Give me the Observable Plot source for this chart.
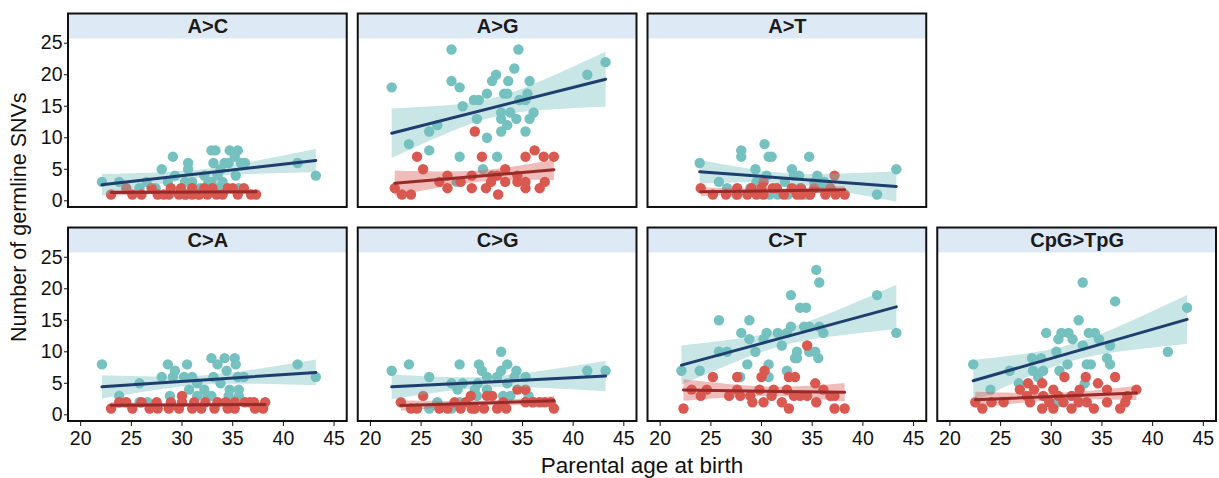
<!DOCTYPE html>
<html>
<head>
<meta charset="utf-8">
<script src="https://cdn.jsdelivr.net/npm/d3@7"></script>
<script src="https://cdn.jsdelivr.net/npm/@observablehq/plot@0.6"></script>
<style>
  body { margin: 0; background: #fff; }
  #chart { font-family: "Liberation Sans", Arial, sans-serif; }
</style>
</head>
<body>
<div id="chart"></div>
<script>
// Mutation classes, laid out on a 4 x 2 grid (top-right cell left empty)
const panels   = ["A>C", "A>G", "A>T", "C>A", "C>G", "C>T", "CpG>TpG"];
const panelCol = [0, 1, 2, 0, 1, 2, 3];
const panelRow = [0, 0, 0, 1, 1, 1, 1];

const xTicks = [20, 25, 30, 35, 40, 45];
const yTicks = [0, 5, 10, 15, 20, 25];

// [parental age, number of germline SNVs] — fathers
const paternalAC = [[22.1,3],[23.8,3],[25.8,2],[26.5,3],[27.4,2],[28,5],[29.1,7],[28.6,3],[29.3,4],[30.6,6],[30.6,5],[30.3,3],[31,3],[30.4,1],[31.6,1],[31.8,2],[32.2,4],[32.9,8],[33.3,8],[33.1,6],[32.6,3],[32.9,3],[33.5,4],[33.5,2],[33.8,5],[34,3],[34.2,6],[34.6,6],[34.7,8],[35.5,8],[35.2,7],[35.8,6],[36.2,6],[35.3,4],[35.6,2],[41.4,6],[43.2,4]];
const paternalAG = [[22.1,18],[23.8,9],[25.8,11],[25.8,8],[26.6,12],[28,24],[28,19],[28.5,3],[28.8,18],[28.8,7],[29.1,15],[30.5,13],[30.2,16],[30.7,16],[31.5,17],[31.5,10],[31.1,5],[32,19],[32.4,20],[32.5,7],[32.9,14],[32.9,13],[32.9,11],[33.2,17],[33.5,17],[33.6,19],[33.5,12],[33.8,14],[34.2,21],[34.6,24],[34.4,13],[34.7,16],[35.3,16],[35.5,17],[35.7,19],[35.7,13],[36.1,14],[35.3,11],[41.4,20],[43.2,22]];
const paternalAT = [[23.9,6],[25.8,3],[26.6,2],[27.5,1],[28,8],[28,7],[28.9,2],[29.4,5],[29.5,3],[30.3,9],[30.5,4],[30.7,7],[30.8,1],[31,7],[31.5,2],[31.6,1],[32.3,3],[32.6,1],[33,5],[33,2],[33.2,4],[33.7,4],[33.8,2],[34.3,1],[34.7,7],[34.7,1],[35.2,3],[35.5,4],[35.7,2],[36,3],[36.2,3],[41.4,1],[43.3,5]];
const paternalCA = [[22.1,8],[23.8,3],[25.8,5],[25.8,2],[26.6,2],[28,6],[28.6,8],[28.8,3],[29.1,6],[29.3,7],[30.2,6],[30.5,8],[30.7,4],[31,6],[31.5,5],[31.5,3],[32.2,4],[32.5,3],[32.9,9],[32.9,3],[33.1,6],[33.5,8],[33.8,5],[34.2,9],[34.4,7],[34.6,3],[34.7,4],[35.2,9],[35.3,8],[35.5,6],[35.6,4],[35.6,3],[36.1,6],[41.4,8],[43.2,6]];
const paternalCG = [[22.1,7],[23.8,8],[25.8,6],[25.8,1],[26.6,2],[28,5],[28,1],[28.6,4],[28.8,8],[28.8,2],[29.1,5],[30.3,4],[30.5,3],[30.6,5],[30.7,8],[31,7],[31.5,6],[31.5,4],[32.5,6],[32.9,10],[32.9,7],[33.1,3],[33.5,8],[33.5,5],[33.8,3],[34.2,6],[34.4,7],[35.3,6],[35.6,3],[36.1,2],[41.4,7],[43.2,7]];
const paternalCT = [[22.1,7],[23.9,7],[25.8,15],[25.8,10],[26.6,10],[27.9,6],[28,13],[28.6,8],[28.8,15],[28.8,12],[29.4,10],[30.2,12],[30.5,13],[30.7,8],[30.7,6],[31.6,13],[32,11],[32.5,13],[32.5,7],[32.9,19],[32.9,14],[33.3,9],[33.5,10],[33.5,9],[33.8,17],[34.2,14],[34.4,17],[34.7,14],[34.7,10],[35.3,10],[35.4,23],[35.6,9],[35.7,21],[35.7,14],[36.1,13],[41.4,19],[43.3,13]];
const paternalCpG = [[22.3,8],[24,4],[25.9,7],[26.8,5],[28.1,9],[28.2,7],[28.7,6],[29,9],[29.2,7],[29.5,13],[30.5,10],[30.6,2],[30.7,12],[30.8,7],[31,13],[31.6,8],[31.7,13],[32.1,12],[32.5,3],[32.7,15],[33.1,21],[33.1,11],[33.3,5],[33.5,8],[33.7,13],[33.9,8],[34.3,13],[34.7,12],[35.5,9],[35.8,8],[35.8,11],[36.3,18],[41.5,10],[43.4,17]];

// [parental age, number of germline SNVs] — mothers
const maternalAC = [[23,1],[24.5,2],[25.1,1],[26,1],[27,2],[27.6,1],[28.2,1],[28.7,1],[28.9,2],[29.7,1],[29.9,2],[30.3,1],[31,1],[31,2],[31.7,1],[32.2,2],[32.5,1],[33,2],[33.4,1],[34,1],[34.5,2],[35,2],[35.5,1],[36.1,2],[36.8,1],[37.3,1]];
const maternalAG = [[22.4,2],[23.1,1],[24,1],[24.6,7],[25.2,5],[26.8,3],[27.6,4],[27.6,2],[28.9,3],[30,4],[30,2],[30.3,11],[31,7],[31.4,2],[31.9,3],[32,4],[32.5,4],[32.6,1],[33.3,5],[33.3,3],[34.5,4],[34.5,3],[35.3,7],[35.3,3],[35.3,2],[36.2,8],[36.7,2],[37.1,7],[37.2,3],[38.1,7]];
const maternalAT = [[24,2],[25.2,1],[26.5,1],[27.6,2],[27.6,1],[28.6,1],[29,2],[29.5,1],[30,2],[30.2,3],[30.2,1],[31.1,2],[31.5,2],[32.2,1],[33,2],[33.5,1],[33.9,2],[33.9,1],[34.8,1],[35.2,2],[36.3,1],[36.8,2],[37.2,4],[37.3,1],[38.2,1]];
const maternalCA = [[23,1],[23.8,2],[24.5,2],[25.1,1],[26,2],[26.8,1],[27.5,2],[27.6,1],[28.7,1],[28.9,2],[29.7,1],[30,2],[30,3],[31,1],[31.2,2],[31.9,1],[32.3,2],[33.2,1],[33.5,2],[34.3,2],[34.5,1],[35.2,1],[35.2,2],[36.2,2],[36.7,2],[37.1,2],[37.2,1],[38,1],[38.2,2]];
const maternalCG = [[23,2],[24,1],[24.6,1],[25.2,3],[26.8,1],[27.6,1],[28.3,2],[28.9,1],[29.4,2],[29.9,3],[30,1],[30.3,1],[31.2,1],[31.5,3],[32,3],[32.5,1],[33.1,2],[33.4,1],[34.5,4],[35.3,4],[35.3,2],[36,2],[36.7,2],[37.2,2],[37.8,2],[38.1,1]];
const maternalCT = [[22.3,1],[23.1,4],[24,3],[24.6,4],[25.2,6],[26.8,3],[27.6,6],[27.6,4],[27.9,3],[28.9,3],[29.1,2],[29.8,4],[30,6],[30.2,2],[30.3,7],[31,3],[31.2,4],[32,2],[32.5,4],[32.7,6],[32.7,1],[33.2,3],[33.3,6],[33.8,3],[34.5,11],[34.5,3],[35.3,5],[35.4,2],[36.1,4],[36.8,3],[37.2,3],[37.2,1],[38.2,1]];
const maternalCpG = [[22.5,2],[23.2,1],[24.1,2],[25.3,2],[26.9,4],[27.6,3],[27.7,5],[27.9,2],[28.3,4],[29.1,5],[29.1,1],[29.2,3],[29.8,2],[30.2,4],[30.2,1],[30.7,3],[31.2,2],[31.3,6],[32,1],[32,3],[32.7,2],[32.8,4],[33.4,6],[33.5,2],[34.2,1],[34.6,5],[35.5,2],[35.5,4],[36.3,6],[36.8,1],[37.3,2],[37.5,3],[38.4,4]];

const paternalByPanel = [paternalAC, paternalAG, paternalAT, paternalCA, paternalCG, paternalCT, paternalCpG];
const maternalByPanel = [maternalAC, maternalAG, maternalAT, maternalCA, maternalCG, maternalCT, maternalCpG];

// Colours
const paternalDot = "#75c1c0", paternalLine = "#1e3e6d";
const maternalDot = "#d9584f", maternalLine = "#992a2a";
const stripFill = "#dde9f5";

// Scale extents: the top of each panel carries a label strip above y = 25
const xDomain = [18.8, 46.3];
const yDomain = [-1.06, 29.64];
const stripBase = 25.68;

// Long-format table for the marks
const toRows = (pairs, i, parent) => pairs.map(([age, n]) => ({
  panel: panels[i], col: panelCol[i], row: panelRow[i], parent, age, n
}));
const fathers = paternalByPanel.flatMap((p, i) => toRows(p, i, "paternal"));
const mothers = maternalByPanel.flatMap((p, i) => toRows(p, i, "maternal"));
const panelTable = panels.map((name, i) => ({name, col: panelCol[i], row: panelRow[i]}));

const W = 1219, H = 478;
const margin = {top: 13.5, right: 3, bottom: 57, left: 68};

const chart = Plot.plot({
  width: W,
  height: H,
  marginTop: margin.top,
  marginRight: margin.right,
  marginBottom: margin.bottom,
  marginLeft: margin.left,
  style: {fontFamily: "'Liberation Sans', Arial, sans-serif", color: "#111", background: "#fff"},
  fx: {axis: null, domain: [0, 1, 2, 3], paddingInner: 0.038, paddingOuter: 0, round: false},
  fy: {axis: null, domain: [0, 1], paddingInner: 0.096, paddingOuter: 0, round: false},
  x: {domain: xDomain, label: null},
  y: {domain: yDomain, label: null},
  marks: [
    // label strip
    Plot.rect(panelTable, {
      fx: "col", fy: "row",
      x1: xDomain[0], x2: xDomain[1], y1: stripBase, y2: yDomain[1],
      fill: stripFill
    }),
    Plot.text(panelTable, {
      fx: "col", fy: "row", text: "name",
      frameAnchor: "top", lineAnchor: "middle", dy: 13,
      fontSize: 20, fontWeight: "bold", fill: "#1a1a1a"
    }),
    // points
    Plot.dot(fathers, {fx: "col", fy: "row", x: "age", y: "n", r: 5.2, fill: paternalDot, stroke: "none"}),
    Plot.dot(mothers, {fx: "col", fy: "row", x: "age", y: "n", r: 5.2, fill: maternalDot, stroke: "none"}),
    // linear fits with 95% confidence bands
    Plot.linearRegressionY(fathers, {
      fx: "col", fy: "row", x: "age", y: "n",
      stroke: paternalLine, strokeWidth: 3,
      fill: paternalDot, fillOpacity: 0.4, ci: 0.95
    }),
    Plot.linearRegressionY(mothers, {
      fx: "col", fy: "row", x: "age", y: "n",
      stroke: maternalLine, strokeWidth: 3,
      fill: maternalDot, fillOpacity: 0.4, ci: 0.95
    }),
    // panel border
    Plot.rect(panelTable, {
      fx: "col", fy: "row",
      x1: xDomain[0], x2: xDomain[1], y1: yDomain[0], y2: yDomain[1],
      fill: "none", stroke: "#111", strokeWidth: 2
    }),
    Plot.axisX({ticks: xTicks, tickSize: 5, tickPadding: 5, fontSize: 19.5, label: null, stroke: "#111", fill: "#111"}),
    Plot.axisY({ticks: yTicks, tickSize: 4, tickPadding: 2, fontSize: 19.5, label: null, stroke: "#111", fill: "#111"})
  ]
});

document.getElementById("chart").appendChild(chart);

// Shared axis titles, centred on the whole facet grid
const svg = d3.select(chart.tagName.toLowerCase() === "svg" ? chart : chart.querySelector("svg"));
const gridMidX = (margin.left + (W - margin.right)) / 2;
const gridMidY = (margin.top + (H - margin.bottom)) / 2;
svg.append("text")
  .attr("x", gridMidX).attr("y", H - 5)
  .attr("text-anchor", "middle")
  .attr("font-size", 22.5).attr("fill", "#111")
  .text("Parental age at birth");
svg.append("text")
  .attr("transform", `translate(26,${gridMidY}) rotate(-90)`)
  .attr("text-anchor", "middle")
  .attr("font-size", 21.5).attr("fill", "#111")
  .text("Number of germline SNVs");
</script>
</body>
</html>
